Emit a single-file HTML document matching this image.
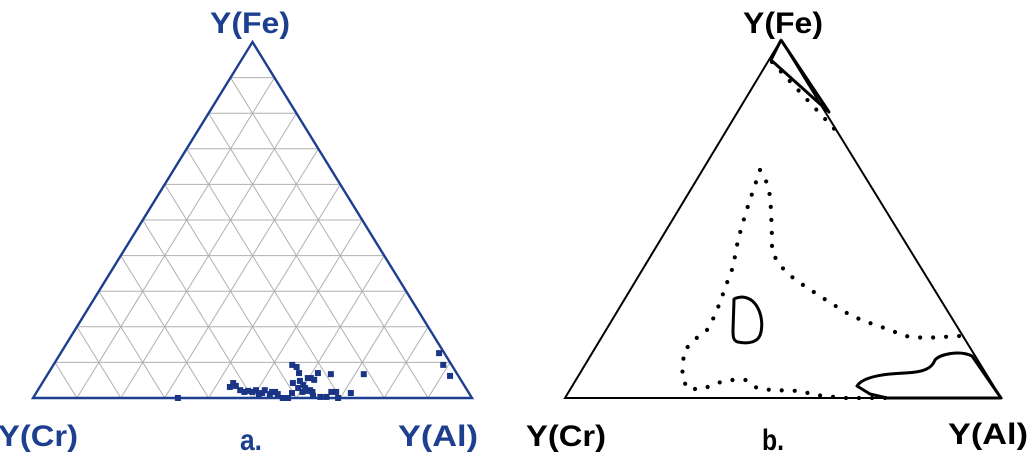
<!DOCTYPE html>
<html><head><meta charset="utf-8"><style>
html,body{margin:0;padding:0;background:#fff;width:1029px;height:459px;overflow:hidden}
svg{display:block}
text{font-family:"Liberation Sans",sans-serif;font-weight:bold}
</style></head><body>
<svg id="c" width="1029" height="459">
<g id="a"></g>
<g id="b"></g>
</svg>
<script>
// Panel a data: [Al %, Fe %] (Cr = remainder)
const alVals=[33,43.3,43.5,44.5,46.1,47.3,48,49.1,49.7,50.9,51.5,51.7,53.4,53.6,54.3,55.2,56.9,58.1,58.3,54.4,55.7,57.1,58.4,59.7,59,60.6,61.4,62,62.8,60.5,59.8,60.5,61.5,61.4,57.1,67.1,69.5,66.7,71.7,72,64.5,68.2,63.5,65.3,86.2,88.8,91.9];
const feVals=[0,3.1,4.2,3.4,2.2,1.7,2,1.7,2.2,1.1,1.4,2.2,1.1,1.7,1.7,1.1,0,0,1.4,9.3,8.7,4.2,4.8,3.7,2.8,2.8,2,2.2,1.7,1.7,5.6,5.6,5.1,7,7,1.7,0,0.3,1.4,6.7,6.7,1.7,0.6,0.3,12.6,9.3,6.2];
const gridSteps=[10,20,30,40,50,60,70,80,90];

const NS="http://www.w3.org/2000/svg";
function mk(tag,attrs,parent){const e=document.createElementNS(NS,tag);for(const k in attrs)e.setAttribute(k,attrs[k]);parent.appendChild(e);return e;}

const A={lx:33,rx:472,by:398,ty:42};
function tx(al,fe){return A.lx+(A.rx-A.lx)*(al+fe/2)/100;}
function ty(fe){return A.by-(A.by-A.ty)*fe/100;}
const ga=document.getElementById('a');
gridSteps.forEach(p=>{
  let l=mk('line',{x1:tx(0,p),y1:ty(p),x2:tx(100-p,p),y2:ty(p),stroke:'#b0b0b0','stroke-width':1},ga);
  
  
  l=mk('line',{x1:tx(p,0),y1:ty(0),x2:tx(p,100-p),y2:ty(100-p),stroke:'#b0b0b0','stroke-width':1},ga);
  
  
  l=mk('line',{x1:tx(100-p,0),y1:ty(0),x2:tx(0,100-p),y2:ty(100-p),stroke:'#b0b0b0','stroke-width':1},ga);
  
  
});
const triA=mk('polygon',{points:`${tx(0,0)},${ty(0)} ${tx(100,0)},${ty(0)} ${tx(0,100)},${ty(100)}`,fill:'none',stroke:'#1d3f8f','stroke-width':2.4},ga);


alVals.forEach((al,i)=>{
  const fe=feVals[i];
  const r=mk('rect',{x:tx(al,fe)-3,y:ty(fe)-3,width:6,height:6,fill:'#1a3585'},ga);
  
  
});
function lab(g,t,x,y,fill,name){const e=mk('text',{x:x,y:y,'font-size':30,fill:fill,'text-anchor':'middle','textLength':t.length>2?80:22,'lengthAdjust':'spacingAndGlyphs'},g);e.textContent=t;}
lab(ga,'Y(Fe)',250,33,'#1d3f8f','label-fe-a');
lab(ga,'Y(Cr)',38,446,'#1d3f8f','label-cr-a');
lab(ga,'Y(Al)',438,446,'#1d3f8f','label-al-a');
lab(ga,'a.',251,450,'#1d3f8f','caption-a');

const gb=document.getElementById('b');
const triB=mk('polygon',{points:'565,398 1001,398 781,40',fill:'none',stroke:'#000','stroke-width':2},gb);


const dotted=mk('path',{d:'M760,170 L767,183 770,196 771,210 772,238 772,252 779,264 788,274 800,283 826,300 850,315 864,321 890,330 905,336 925,338 960,336 M760,170 L755,185 746,212 738,240 733,267 728,280 719,305 714,317 707,330 694,340 684,351 682,378 688,389 703,389 717,383 731,380 746,380 757,388 771,390 801,391 815,395 845,398 890,398 M772,62 L840,135',fill:'none',stroke:'#000','stroke-width':4.2,'stroke-linecap':'round','stroke-dasharray':'0 13'},gb);


const dshape=mk('path',{d:'M734,300 Q733,298 742,297 C758,298 764,318 761,332 C759,343 748,344 738,342 C733,341 733,336 733,330 Z',fill:'none',stroke:'#000','stroke-width':3},gb);


const blob=mk('path',{d:'M887,398 L870,394 857,386 C862,378 880,374 905,373 C925,372 932,368 935,360 C940,354 960,350 972,356 L1001,398 Z',fill:'none',stroke:'#000','stroke-width':3,'stroke-linejoin':'round'},gb);


const topField=mk('path',{d:'M781,40 L771,60 L829,112 L781,40',fill:'none',stroke:'#000','stroke-width':3,'stroke-linejoin':'round'},gb);


lab(gb,'Y(Fe)',783,33,'#000','label-fe-b');
lab(gb,'Y(Cr)',566,446,'#000','label-cr-b');
lab(gb,'Y(Al)',988,444,'#000','label-al-b');
lab(gb,'b.',773,450,'#000','caption-b');
</script>
</body></html>
